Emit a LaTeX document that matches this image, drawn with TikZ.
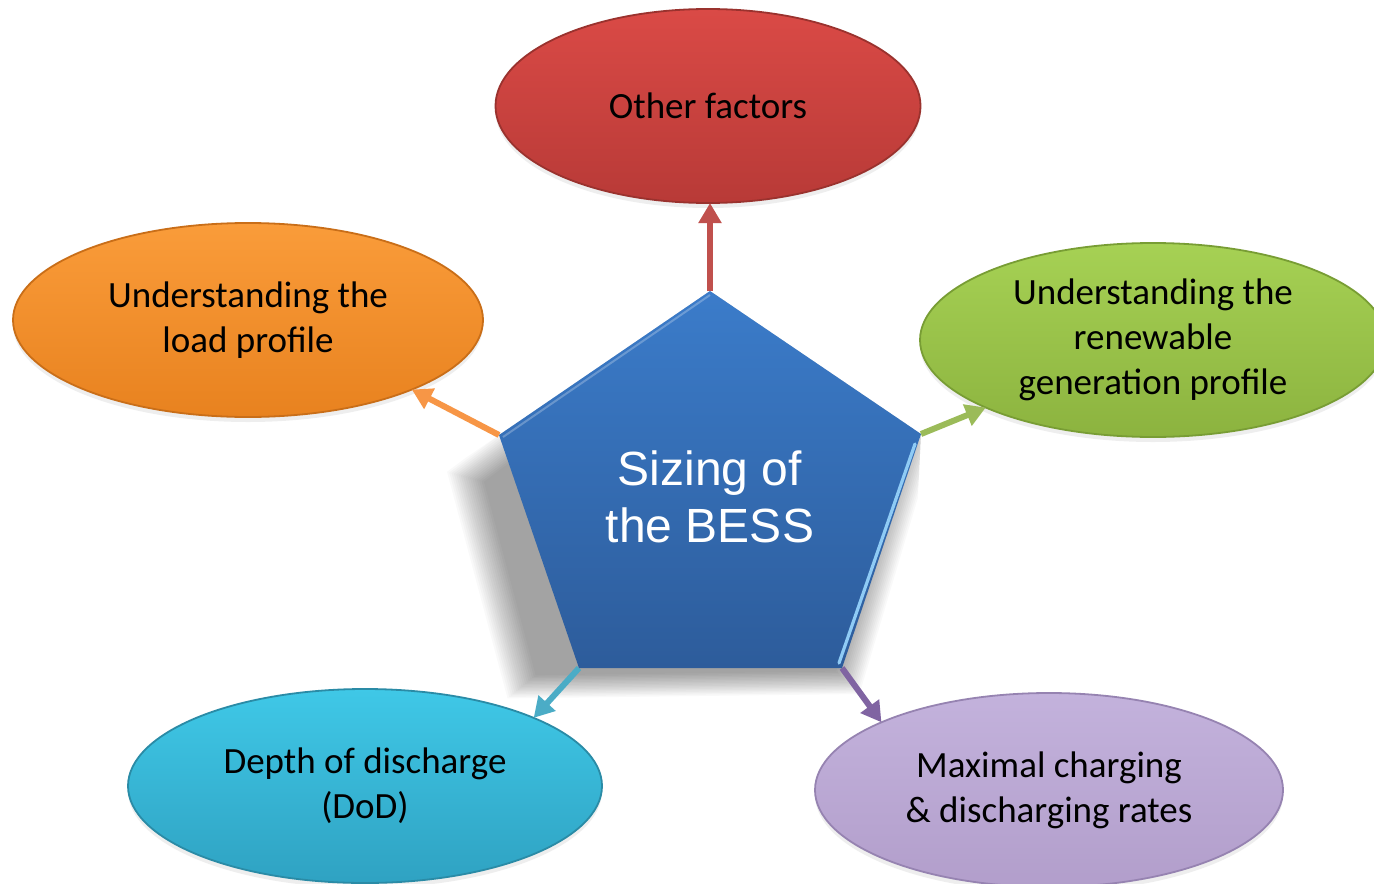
\documentclass[tikz,border=0pt]{standalone}
\usepackage{fontspec}
\setmainfont{Carlito}
\newfontfamily\arialf{Liberation Sans}
\usetikzlibrary{shapes.geometric,arrows.meta,shadows}
\definecolor{redT}{HTML}{DA4A46}
\definecolor{redB}{HTML}{B83A37}
\definecolor{redR}{HTML}{9A322E}
\definecolor{redA}{HTML}{C0504D}
\definecolor{orT}{HTML}{FA9C3A}
\definecolor{orB}{HTML}{E8821F}
\definecolor{orR}{HTML}{C96E18}
\definecolor{orA}{HTML}{F79646}
\definecolor{grT}{HTML}{A6D154}
\definecolor{grB}{HTML}{8CB33F}
\definecolor{grR}{HTML}{789D34}
\definecolor{grA}{HTML}{9BBB59}
\definecolor{tlT}{HTML}{3FC8E7}
\definecolor{tlB}{HTML}{2FA2C2}
\definecolor{tlR}{HTML}{2A8BA6}
\definecolor{tlA}{HTML}{4BACC6}
\definecolor{puT}{HTML}{C3B2DC}
\definecolor{puB}{HTML}{B29ECB}
\definecolor{puR}{HTML}{9683B1}
\definecolor{puA}{HTML}{8064A2}
\definecolor{blT}{HTML}{3B7CCA}
\definecolor{blB}{HTML}{2D5C9B}
\definecolor{blH}{HTML}{8FCBF5}
\begin{document}
\begin{tikzpicture}[x=0.5pt,y=-0.5pt,
  oval/.style={ellipse, inner sep=0pt, outer sep=0pt, align=center,
    minimum height=97pt, line width=0.9pt,
    drop shadow={shadow xshift=0pt, shadow yshift=-2.5pt, opacity=0.13},
    font=\fontsize{18.5}{22.5}\selectfont},
  arr/.style={line width=3pt, -{Triangle[width=11pt,length=10pt]}}]
\useasboundingbox (0,0) rectangle (1374,883);
\fill[white] (0,0) rectangle (1374,883);
% soft shadow of the pentagon
\begin{scope}
  \clip (710,291) -- (921,434) -- (905,760) -- (300,760) -- (300,571) -- cycle;
  \foreach \s in {0.94,0.95,...,1.101}
    \fill[black, opacity=0.025, shift={(700,540)}, scale=\s]
      (8,-240) -- (215,-95) -- (145,140) -- (-175,144) -- (-230,-62) -- cycle;
\end{scope}
% ellipses
\node[oval, minimum width=212.5pt, top color=redT, bottom color=redB, draw=redR]
  (other) at (708,106) {Other factors};
\node[oval, minimum width=235pt, top color=orT, bottom color=orB, draw=orR]
  (load) at (248,320) {Understanding the\\load profile};
\node[oval, minimum width=233pt, top color=grT, bottom color=grB, draw=grR]
  (ren) at (1153,340) {Understanding the\\renewable\\generation profile};
\node[oval, minimum width=237pt, top color=tlT, bottom color=tlB, draw=tlR]
  (dod) at (365,786) {Depth of discharge\\(DoD)};
\node[oval, minimum width=234pt, top color=puT, bottom color=puB, draw=puR]
  (max) at (1049,790) {Maximal charging\\\& discharging rates};
% pentagon corners
\coordinate (p1) at (710,291);
\coordinate (p2) at (921,434);
\coordinate (p3) at (842,668);
\coordinate (p4) at (579,668);
\coordinate (p5) at (499,435);
% arrows
\draw[arr, redA] (p1) -- (p1 |- other.south);
\draw[arr, orA] (p5) -- (load.-23.6);
\draw[arr, grA] (p2) -- (ren.202.3);
\draw[arr, tlA] (p4) -- (dod.22);
\draw[arr, puA] (p3) -- (max.158.3);
% pentagon
\shade[top color=blT, bottom color=blB] (p1) -- (p2) -- (p3) -- (p4) -- (p5) -- cycle;
\draw[blH, line width=1.6pt, line cap=round] (915,444) -- (839,663);
\draw[white, opacity=0.25, line width=1pt] (503,437) -- (710,295);
\node[font=\arialf\fontsize{24}{28.5}\selectfont, text=white, align=center]
  (bess) at (710,497) {Sizing of\\the BESS};
\end{tikzpicture}
\end{document}
